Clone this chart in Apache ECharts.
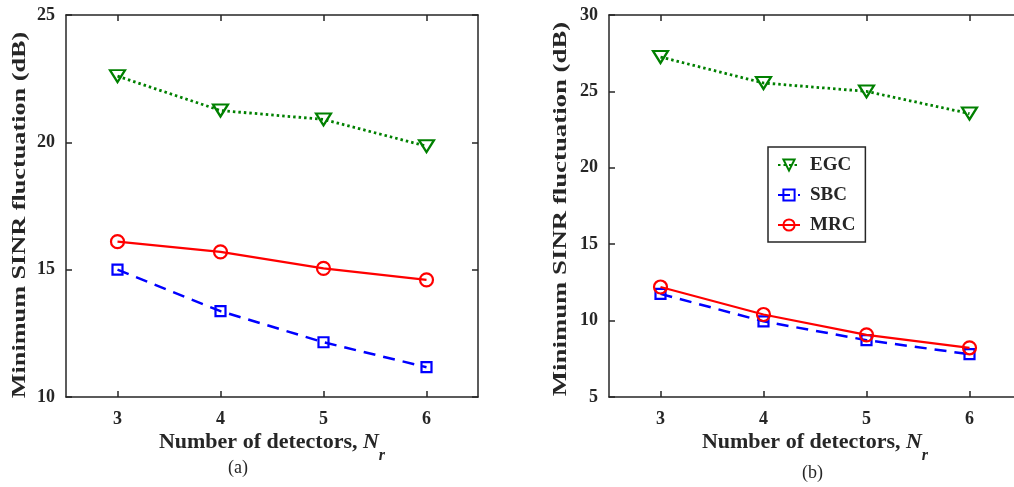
<!DOCTYPE html>
<html>
<head>
<meta charset="utf-8">
<script src="https://cdn.jsdelivr.net/npm/echarts@6/dist/echarts.min.js"></script>
<style>
html,body{margin:0;padding:0;background:#fff;}
#c{width:1014px;height:487px;}
</style>
</head>
<body>
<div id="c"></div>
<script>
// ---- data ----
const detectors = ['3', '4', '5', '6'];
const seriesNames = ['EGC', 'SBC', 'MRC'];
// panel (a)
const egcA = [22.6, 21.25, 20.9, 19.85];
const sbcA = [15.0, 13.37, 12.15, 11.17];
const mrcA = [16.1, 15.7, 15.05, 14.6];
// panel (b)
const egcB = [27.25, 25.55, 25.0, 23.55];
const sbcB = [11.75, 9.95, 8.72, 7.8];
const mrcB = [12.2, 10.4, 9.07, 8.22];
// axis ranges / ticks
const yTicksA = [10, 15, 20, 25];
const yTicksB = [5, 10, 15, 20, 25, 30];
const xTitle = 'Number of detectors, {i|N}{s|r}';
const yTitle = 'Minimum SINR fluctuation (dB)';
const captions = ['(a)', '(b)'];

const FONT = '"Liberation Serif", "Times New Roman", serif';
const AX = '#262626';
const GREEN = '#008000', BLUE = '#0000ff', RED = '#ff0000';

const grids = [
  {left: 66, top: 15, width: 412, height: 382, outerBoundsMode: 'none', containLabel: false},
  {left: 609, top: 15, width: 412, height: 382, outerBoundsMode: 'none', containLabel: false}
];

function xAxes(gi) {
  const base = {
    type: 'category', data: detectors, gridIndex: gi, boundaryGap: true,
    axisLine: {show: true, lineStyle: {color: AX, width: 1.5}},
    splitLine: {show: false}
  };
  return [
    Object.assign({}, base, {
      position: 'bottom',
      axisTick: {show: true, inside: true, length: 6, alignWithLabel: true, lineStyle: {color: AX, width: 1.5}},
      axisLabel: {show: true, margin: 13, color: AX, fontFamily: FONT, fontWeight: 'bold', fontSize: 18},
      name: xTitle, nameLocation: 'middle', nameGap: 23, nameMoveOverlap: false,
      nameTextStyle: {
        color: AX, fontFamily: FONT, fontWeight: 'bold', fontSize: 22, lineHeight: 44,
        rich: {
          i: {fontFamily: FONT, fontWeight: 'bold', fontStyle: 'italic', fontSize: 22, lineHeight: 44, color: AX},
          s: {fontFamily: FONT, fontWeight: 'bold', fontStyle: 'italic', fontSize: 16, lineHeight: 16, verticalAlign: 'bottom', color: AX}
        }
      }
    }),
    Object.assign({}, base, {
      position: 'top',
      axisTick: {show: true, inside: true, length: 6, alignWithLabel: true, lineStyle: {color: AX, width: 1.5}},
      axisLabel: {show: false}
    })
  ];
}

function yAxes(gi, ticks) {
  const base = {
    type: 'value', gridIndex: gi,
    min: ticks[0], max: ticks[ticks.length - 1], interval: ticks[1] - ticks[0],
    axisLine: {show: true, lineStyle: {color: AX, width: 1.5}},
    splitLine: {show: false}
  };
  return [
    Object.assign({}, base, {
      position: 'left',
      axisTick: {show: true, inside: true, length: 6, lineStyle: {color: AX, width: 1.5}},
      axisLabel: {show: true, margin: 11, color: AX, fontFamily: FONT, fontWeight: 'bold', fontSize: 18}
    }),
    Object.assign({}, base, {
      position: 'right',
      axisTick: {show: true, inside: true, length: 6, lineStyle: {color: AX, width: 1.5}},
      axisLabel: {show: false}
    })
  ];
}

function mk(name, data, gi) {
  const styles = {
    EGC: {color: GREEN, symbol: 'triangle', rotate: 180, size: [15, 12], type: [2.5, 3], width: 2.8},
    SBC: {color: BLUE, symbol: 'rect', rotate: 0, size: 10, type: [12, 8], width: 2.5},
    MRC: {color: RED, symbol: 'circle', rotate: 0, size: 13, type: 'solid', width: 2.2}
  }[name];
  return {
    name: name, type: 'line', data: data,
    xAxisIndex: gi * 2, yAxisIndex: gi * 2,
    symbol: styles.symbol, symbolSize: styles.size, symbolRotate: styles.rotate,
    showAllSymbol: true,
    itemStyle: {color: 'none', borderColor: styles.color, borderWidth: 2.2},
    lineStyle: {color: styles.color, width: styles.width, type: styles.type},
    emphasis: {disabled: true},
    z: name === 'SBC' ? 2 : 3
  };
}

const option = {
  animation: false,
  backgroundColor: '#fff',
  grid: grids,
  xAxis: xAxes(0).concat(xAxes(1)),
  yAxis: yAxes(0, yTicksA).concat(yAxes(1, yTicksB)),
  legend: {
    data: seriesNames, orient: 'vertical', left: 768, top: 147,
    padding: [8, 10, 7, 9], itemGap: 10, itemWidth: 22, itemHeight: 14,
    borderColor: AX, borderWidth: 1.5, backgroundColor: '#fff',
    selectedMode: false,
    textStyle: {color: AX, fontFamily: FONT, fontWeight: 'bold', fontSize: 19, lineHeight: 20, padding: [0, 0, 0, 5]}
  },
  title: [
    {text: captions[0], left: 228, top: 459, textStyle: {color: AX, fontFamily: FONT, fontWeight: 'normal', fontSize: 18}, padding: 0},
    {text: captions[1], left: 802, top: 464, textStyle: {color: AX, fontFamily: FONT, fontWeight: 'normal', fontSize: 18}, padding: 0}
  ],
  graphic: [
    {type: 'text', x: 20, y: 215, rotation: Math.PI / 2, scaleX: 1.38, silent: true,
      style: {text: yTitle, fontFamily: FONT, fontWeight: 'bold', fontSize: 19, fill: AX, align: 'center', verticalAlign: 'middle'}},
    {type: 'text', x: 561, y: 209, rotation: Math.PI / 2, scaleX: 1.41, silent: true,
      style: {text: yTitle, fontFamily: FONT, fontWeight: 'bold', fontSize: 19, fill: AX, align: 'center', verticalAlign: 'middle'}}
  ],
  series: [
    mk('EGC', egcA, 0), mk('SBC', sbcA, 0), mk('MRC', mrcA, 0),
    mk('EGC', egcB, 1), mk('SBC', sbcB, 1), mk('MRC', mrcB, 1)
  ]
};

const chart = echarts.init(document.getElementById('c'), null, {renderer: 'canvas'});
chart.setOption(option);
</script>
</body>
</html>
